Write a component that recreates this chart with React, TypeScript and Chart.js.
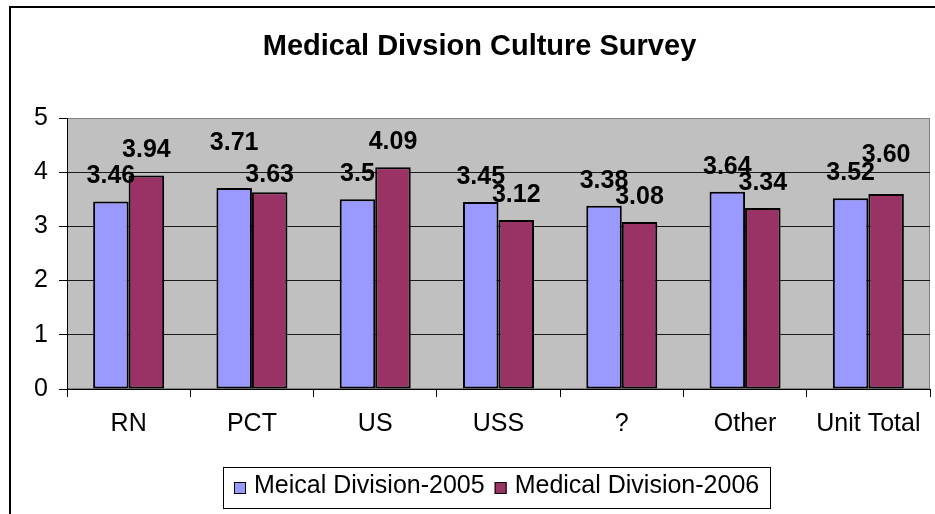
import React, { useEffect, useRef } from 'react';
import { Chart, registerables } from 'chart.js';

Chart.register(...registerables);

// ---- data ----
const categories = ['RN', 'PCT', 'US', 'USS', '?', 'Other', 'Unit Total'];
const seriesNames = ['Meical Division-2005', 'Medical Division-2006'];
const values2005 = [3.46, 3.71, 3.5, 3.45, 3.38, 3.64, 3.52];
const values2006 = [3.94, 3.63, 4.09, 3.12, 3.08, 3.34, 3.6];
const labels2005 = ['3.46', '3.71', '3.5', '3.45', '3.38', '3.64', '3.52'];
const labels2006 = ['3.94', '3.63', '4.09', '3.12', '3.08', '3.34', '3.60'];
const yMin = 0;
const yMax = 5;
const yStep = 1;
const titleText = 'Medical Divsion Culture Survey';

// ---- styling ----
const FONT = '"Liberation Sans", Arial, Helvetica, sans-serif';
const COLORS = ['#9999ff', '#993366'];
const labelNudge = [
  [0, -20, 0, 0, 0, 0, 0],
  [0, 8, 0, 0, 0, 0, -14],
];
const valueLabels = [labels2005, labels2006];

const decorPlugin = {
  id: 'decor',
  beforeDraw(chart: any) {
    const { ctx, chartArea: a } = chart;
    ctx.save();
    ctx.fillStyle = '#ffffff';
    ctx.fillRect(0, 0, chart.width, chart.height);
    // outer chart border (extends beyond view on right/bottom)
    ctx.fillStyle = '#000000';
    ctx.fillRect(9, 6, chart.width, 2);
    ctx.fillRect(9, 6, 2, chart.height);
    // plot area
    ctx.fillStyle = '#c0c0c0';
    ctx.fillRect(a.left, a.top, a.right - a.left, a.bottom - a.top);
    ctx.strokeStyle = '#808080';
    ctx.lineWidth = 1;
    ctx.strokeRect(a.left + 0.5, a.top + 0.5, a.right - a.left - 1, a.bottom - a.top - 1);
    // title
    ctx.fillStyle = '#000000';
    ctx.font = `bold 29px ${FONT}`;
    ctx.textAlign = 'center';
    ctx.textBaseline = 'alphabetic';
    ctx.fillText(titleText, 479.5, 55);
    ctx.restore();
  },
  afterDatasetsDraw(chart: any) {
    const { ctx } = chart;
    ctx.save();
    ctx.fillStyle = '#000000';
    ctx.font = `bold 25px ${FONT}`;
    ctx.textAlign = 'center';
    ctx.textBaseline = 'alphabetic';
    chart.data.datasets.forEach((ds: any, di: number) => {
      const meta = chart.getDatasetMeta(di);
      meta.data.forEach((bar: any, i: number) => {
        ctx.fillText(valueLabels[di][i], bar.x, bar.y - 18 + labelNudge[di][i]);
      });
    });
    ctx.restore();
  },
  afterDraw(chart: any) {
    const { ctx } = chart;
    ctx.save();
    ctx.font = `25px ${FONT}`;
    ctx.textBaseline = 'alphabetic';
    ctx.textAlign = 'left';
    const box = 12;
    const gapText = 8;
    const gapItem = 10;
    const padX = 11;
    const items = chart.data.datasets.map((ds: any) => ({
      text: ds.label,
      color: ds.backgroundColor,
      w: ctx.measureText(ds.label).width,
    }));
    let content = 0;
    items.forEach((it: any, i: number) => {
      content += box + gapText + it.w + (i > 0 ? gapItem : 0);
    });
    const cx = 497;
    const top = 467;
    const h = 41;
    const left = Math.round(cx - content / 2 - padX);
    const width = Math.round(content + padX * 2);
    ctx.strokeStyle = '#000000';
    ctx.lineWidth = 1;
    ctx.strokeRect(left + 0.5, top + 0.5, width, h);
    let x = left + padX;
    items.forEach((it: any) => {
      ctx.fillStyle = it.color;
      ctx.fillRect(x, 482, box, box);
      ctx.strokeRect(x + 0.5, 482.5, box - 1, box - 1);
      ctx.fillStyle = '#000000';
      ctx.fillText(it.text, x + box + gapText, 493);
      x += box + gapText + it.w + gapItem;
    });
    ctx.restore();
  },
};

export default function App() {
  const canvasRef = useRef<HTMLCanvasElement | null>(null);

  useEffect(() => {
    const canvas = canvasRef.current;
    if (!canvas) return;
    const chart = new Chart(canvas, {
      type: 'bar',
      data: {
        labels: categories,
        datasets: [
          {
            label: seriesNames[0],
            data: values2005,
            backgroundColor: COLORS[0],
            borderColor: '#000000',
            borderWidth: 2,
            borderSkipped: false,
            categoryPercentage: 0.576,
            barPercentage: 1,
          },
          {
            label: seriesNames[1],
            data: values2006,
            backgroundColor: COLORS[1],
            borderColor: '#000000',
            borderWidth: 2,
            borderSkipped: false,
            categoryPercentage: 0.576,
            barPercentage: 1,
          },
        ],
      },
      options: {
        responsive: false,
        animation: false,
        layout: { padding: { top: 118, left: 0, right: 5, bottom: 65 } },
        plugins: {
          legend: { display: false },
          title: { display: false },
          tooltip: { enabled: false },
        },
        scales: {
          x: {
            type: 'category',
            offset: true,
            grid: {
              display: true,
              drawOnChartArea: false,
              drawTicks: true,
              tickLength: 8,
              offset: true,
              color: '#000000',
              tickColor: '#000000',
            },
            border: { display: true, color: '#000000', width: 1 },
            ticks: {
              font: { family: FONT, size: 25 },
              color: '#000000',
              padding: 12,
              maxRotation: 0,
              autoSkip: false,
            },
            afterFit(scale: any) {
              scale.height = 60;
            },
          },
          y: {
            min: yMin,
            max: yMax,
            ticks: {
              stepSize: yStep,
              font: { family: FONT, size: 25 },
              color: '#000000',
              padding: 11,
            },
            grid: {
              color: (c: any) => (c.tick && c.tick.value === yMax ? '#808080' : '#1a1a1a'),
              tickColor: '#000000',
              tickLength: 8,
              drawTicks: true,
            },
            border: { display: true, color: '#000000', width: 1 },
            afterFit(scale: any) {
              scale.width = 67;
            },
          },
        },
      },
      plugins: [decorPlugin],
    } as any);
    return () => chart.destroy();
  }, []);

  return (
    <div style={{ position: 'absolute', left: 0, top: 0, width: 935, height: 514, overflow: 'hidden' }}>
      <canvas ref={canvasRef} width={935} height={514} style={{ display: 'block' }} />
    </div>
  );
}
